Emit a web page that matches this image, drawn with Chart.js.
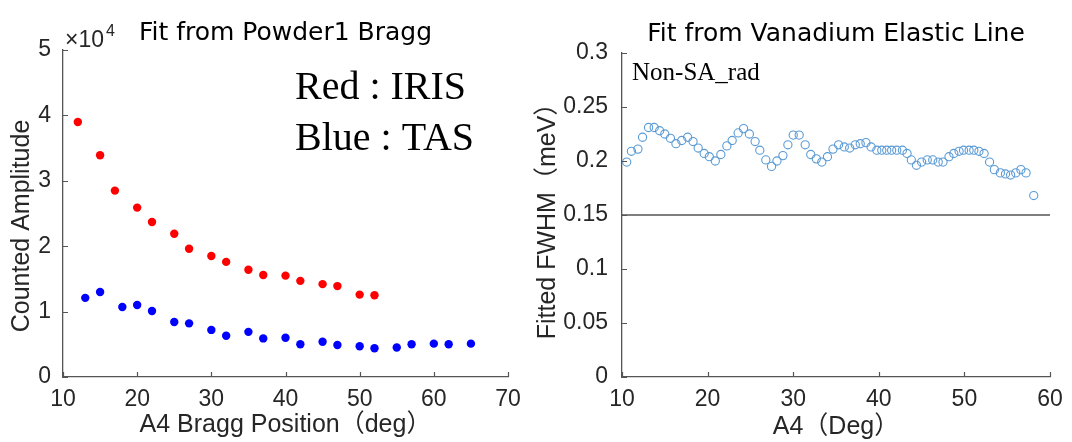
<!DOCTYPE html>
<html><head><meta charset="utf-8">
<script src="https://cdn.jsdelivr.net/npm/chart.js@4.4.1/dist/chart.umd.min.js"></script>
<style>
html,body{margin:0;padding:0;background:#fff;width:1072px;height:442px;overflow:hidden}
#cl{position:absolute;left:0;top:0}
#cr{position:absolute;left:520px;top:0}
</style></head><body>
<canvas id="cl" width="540" height="442"></canvas>
<canvas id="cr" width="552" height="442"></canvas>
<script>
// ---- data (left: Fit from Powder1 Bragg) ----
const irisA4  = [12, 15, 17, 20, 22, 25, 27, 30, 32, 35, 37, 40, 42, 45, 47, 50, 52];
const irisAmp = [39000, 33900, 28500, 25900, 23700, 21900, 19600, 18500, 17600, 16400, 15600, 15500, 14700, 14200, 13900, 12600, 12500];
const tasA4   = [13, 15, 18, 20, 22, 25, 27, 30, 32, 35, 37, 40, 42, 45, 47, 50, 52, 55, 57, 60, 62, 65];
const tasAmp  = [12100, 13000, 10700, 11000, 10100, 8400, 8200, 7200, 6300, 6900, 5900, 6000, 5000, 5400, 4900, 4700, 4400, 4500, 5000, 5100, 5000, 5100];
const leftXTicks = [10, 20, 30, 40, 50, 60, 70];
const leftYTicks = [0, 1, 2, 3, 4, 5];          // in units of 10^4
const leftYFactor = 10000;

// ---- data (right: Fit from Vanadium Elastic Line) ----
const vanA4 = [10.55, 11.1, 11.86, 12.4, 13.1, 13.76, 14.4, 15.0, 15.66, 16.3, 16.98, 17.67, 18.3, 18.9, 19.6, 20.2, 20.9,
  21.55, 22.25, 22.87, 23.57, 24.2, 24.88, 25.55, 26.1, 26.8, 27.47, 28.1, 28.8, 29.38, 30.0, 30.7, 31.4, 32.05, 32.7,
  33.34, 34.0, 34.65, 35.3, 35.97, 36.6, 37.25, 37.83, 38.5, 39.1, 39.77, 40.35, 40.93, 41.5, 42.1, 42.76, 43.3, 43.8,
  44.4, 45.0, 45.66, 46.3, 46.94, 47.5, 48.2, 48.76, 49.38, 49.9, 50.55, 51.1, 51.7, 52.3, 52.94, 53.5, 54.2, 54.8,
  55.4, 56.0, 56.6, 57.2, 58.1];
const vanFWHM = [0.199, 0.209, 0.211, 0.222, 0.231, 0.231, 0.228, 0.225, 0.221, 0.216, 0.219, 0.222, 0.218, 0.212, 0.207, 0.204, 0.200,
  0.206, 0.214, 0.219, 0.226, 0.230, 0.225, 0.218, 0.210, 0.201, 0.195, 0.200, 0.205, 0.215, 0.224, 0.224, 0.215, 0.206, 0.202,
  0.199, 0.204, 0.211, 0.215, 0.213, 0.212, 0.215, 0.216, 0.217, 0.213, 0.210, 0.210, 0.210, 0.210, 0.210, 0.210, 0.207, 0.201,
  0.196, 0.199, 0.201, 0.201, 0.199, 0.199, 0.204, 0.207, 0.209, 0.210, 0.210, 0.210, 0.209, 0.207, 0.199, 0.192, 0.189, 0.188,
  0.187, 0.189, 0.192, 0.189, 0.168];
const refLineA4 = [10, 60];
const refLineFWHM = [0.15, 0.15];
const rightXTicks = [10, 20, 30, 40, 50, 60];
const rightYTicks = [0, 0.05, 0.1, 0.15, 0.2, 0.25, 0.3];

// ---- styling ----
const AXIS = '#555555';
const TXT = '#262626';
const tickFont = {family: '"Liberation Sans", Arial, sans-serif', size: 23};
const labelFont = {family: '"Liberation Sans", "Noto Sans CJK JP", sans-serif', size: 25};

const inwardTicks = {
  id: 'inwardTicks',
  afterDraw(chart, args, o) {
    const ctx = chart.ctx, a = chart.chartArea;
    const xs = chart.scales.x, ys = chart.scales.y;
    ctx.save();
    ctx.strokeStyle = AXIS; ctx.lineWidth = 1.2;
    ctx.beginPath();
    xs.ticks.forEach(t => { const p = Math.round(xs.getPixelForValue(t.value)) + 0.5; ctx.moveTo(p, a.bottom); ctx.lineTo(p, a.bottom - 5); });
    ys.ticks.forEach(t => { const p = Math.round(ys.getPixelForValue(t.value)) + 0.5; ctx.moveTo(a.left, p); ctx.lineTo(a.left + 5, p); });
    ctx.stroke();
    // chart title centred over the axes
    ctx.fillStyle = '#000';
    ctx.font = '25px "DejaVu Sans", sans-serif';
    ctx.textAlign = 'center'; ctx.textBaseline = 'alphabetic';
    ctx.fillText(o.title, (a.left + a.right) / 2, o.titleY);
    (o.notes || []).forEach(n => {
      ctx.font = n.font; ctx.fillStyle = n.color || '#000'; ctx.textAlign = 'left';
      ctx.fillText(n.text, n.x, n.y);
    });
    if (o.exponent) {
      ctx.fillStyle = TXT; ctx.textAlign = 'left';
      ctx.font = '23px "Liberation Sans", "DejaVu Sans", sans-serif';
      ctx.fillText('\u00d710', a.left + 2, a.top - 3);
      const w = ctx.measureText('\u00d710').width;
      ctx.font = '16px "Liberation Sans", sans-serif';
      ctx.fillText(o.exponent, a.left + 4 + w, a.top - 14);
    }
    ctx.restore();
  }
};

function axisCommon(ticksArr, factor, pad) {
  return {
    type: 'linear',
    min: ticksArr[0] * factor, max: ticksArr[ticksArr.length - 1] * factor,
    afterBuildTicks: s => { s.ticks = ticksArr.map(v => ({value: v * factor})); },
    grid: {display: false, drawTicks: false},
    border: {display: true, color: AXIS, width: 1.3},
    ticks: {color: TXT, font: tickFont, padding: pad, autoSkip: false, maxRotation: 0,
            callback: v => String(+(v / factor).toFixed(2))}
  };
}

// ---- left chart ----
const lx = axisCommon(leftXTicks, 1, 9);
lx.afterFit = s => { s.height = 65; };
lx.title = {display: true, text: 'A4 Bragg Position（deg）', color: TXT, font: labelFont, padding: {top: 0, bottom: 2}};
const ly = axisCommon(leftYTicks, leftYFactor, 12);
ly.afterFit = s => { s.width = 63; };
ly.title = {display: true, text: 'Counted Amplitude\u3000', color: TXT, font: labelFont, padding: {top: 7, bottom: 0}};

new Chart(document.getElementById('cl'), {
  type: 'scatter',
  data: {datasets: [
    {label: 'IRIS', data: irisA4.map((x, i) => ({x, y: irisAmp[i]})), backgroundColor: '#ff0000', borderWidth: 0, pointRadius: 4.2},
    {label: 'TAS', data: tasA4.map((x, i) => ({x, y: tasAmp[i]})), backgroundColor: '#0000ff', borderWidth: 0, pointRadius: 4.2}
  ]},
  options: {
    responsive: false, animation: false,
    layout: {padding: {left: 0, top: 50, right: 32, bottom: 0}},
    scales: {x: lx, y: ly},
    plugins: {legend: {display: false}, tooltip: {enabled: false},
      inwardTicks: {title: 'Fit from Powder1 Bragg', titleY: 40, exponent: '4',
        notes: [
          {text: 'Red : IRIS', x: 295, y: 99, font: '40px "Liberation Serif", serif'},
          {text: 'Blue : TAS', x: 295, y: 150, font: '40px "Liberation Serif", serif'}
        ]}}
  },
  plugins: [inwardTicks]
});

// ---- right chart ----
const rx = axisCommon(rightXTicks, 1, 9);
rx.afterFit = s => { s.height = 65; };
rx.title = {display: true, text: 'A4（Deg）', color: TXT, font: labelFont, padding: {top: 0, bottom: 0}};
const ry = axisCommon(rightYTicks, 1, 14);
ry.afterFit = s => { s.width = 102; };
ry.title = {display: true, text: 'Fitted FWHM（meV）', color: TXT, font: labelFont, padding: {top: 13, bottom: 0}};

new Chart(document.getElementById('cr'), {
  type: 'scatter',
  data: {datasets: [
    {label: 'ref', type: 'line', data: refLineA4.map((x, i) => ({x, y: refLineFWHM[i]})), borderColor: '#000', borderWidth: 1.2, pointRadius: 0, fill: false},
    {label: 'Non-SA_rad', data: vanA4.map((x, i) => ({x, y: vanFWHM[i]})), backgroundColor: 'rgba(0,0,0,0)', borderColor: '#5b9bd5', borderWidth: 1.1, pointRadius: 4.1}
  ]},
  options: {
    responsive: false, animation: false,
    layout: {padding: {left: 0, top: 53, right: 22, bottom: 0}},
    scales: {x: rx, y: ry},
    plugins: {legend: {display: false}, tooltip: {enabled: false},
      inwardTicks: {title: 'Fit from Vanadium Elastic Line', titleY: 41,
        notes: [{text: 'Non-SA_rad', x: 112, y: 80, font: '25px "Liberation Serif", serif'}]}}
  },
  plugins: [inwardTicks]
});
</script>
</body></html>
